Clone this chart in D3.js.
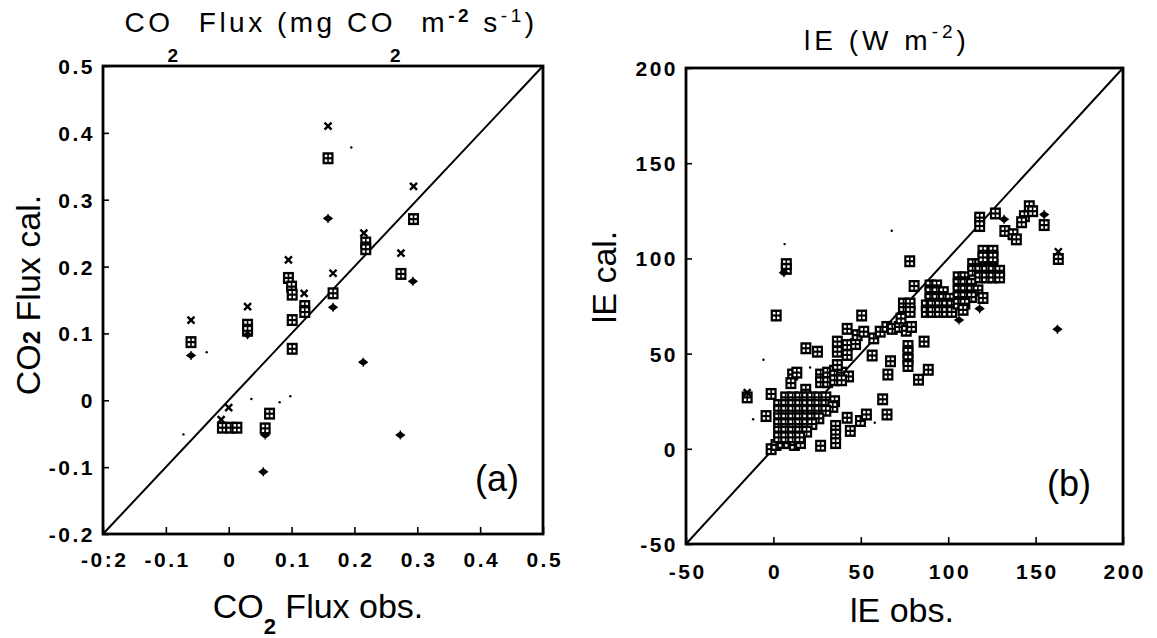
<!DOCTYPE html>
<html>
<head>
<meta charset="utf-8">
<script src="https://cdn.jsdelivr.net/npm/d3@7"></script>
<style>
body { margin: 0; background: #fff; }
text { font-family: "Liberation Sans", Arial, sans-serif; fill: #000; }
</style>
</head>
<body>
<div id="chart"></div>
<script>
// ---- panel (a): CO2 flux, [observed, calculated] ----
const co2Cross = [[-0.06, 0.12], [0.03, 0.14], [0.095, 0.21], [0.12, 0.16], [0.158, 0.41],
    [0.166, 0.19], [0.215, 0.25], [0.274, 0.22], [0.294, 0.32], [0.0, -0.011], [-0.012, -0.029]];
const co2Box = [[-0.06, 0.087], [0.03, 0.113], [0.03, 0.104], [0.095, 0.183], [0.1, 0.17],
    [0.101, 0.158], [0.121, 0.141], [0.121, 0.132], [0.101, 0.12], [0.101, 0.077],
    [0.158, 0.362], [0.166, 0.16], [0.218, 0.236], [0.218, 0.226], [0.274, 0.189], [0.294, 0.271],
    [-0.01, -0.041], [0.003, -0.041], [0.013, -0.041], [0.065, -0.02], [0.058, -0.042]];
const co2Plus = [[-0.06, 0.067], [0.03, 0.098], [0.158, 0.272], [0.166, 0.139], [0.214, 0.057],
    [0.293, 0.178], [0.273, -0.052], [0.058, -0.052], [0.055, -0.107]];
const co2Dots = [[-0.072, -0.051], [0.036, 0.002], [0.081, -0.003], [0.098, 0.006], [-0.035, 0.072], [0.195, 0.378]];

const co2Ticks = [-0.2, -0.1, 0, 0.1, 0.2, 0.3, 0.4, 0.5];
const co2XLabels = ["-0:2", "-0.1", "0", "0.1", "0.2", "0.3", "0.4", "0.5"];
const co2YLabels = ["-0.2", "-0.1", "0", "0.1", "0.2", "0.3", "0.4", "0.5"];

// ---- panel (b): latent heat flux lE, [observed, calculated] ----
const leBox = [
    [-15, 27], [-1.3, 28.8], [-4.2, 17.2], [-1.3, -0.2], [1.6, 70], [7.4, 97], [7.4, 94.5],
    [50.5, 70], [78, 98.5], [80.5, 85.5],
    [1.5, 2], [5, 3], [8.5, 3], [12, 2], [15.5, 3],
    [18.5, 31],
    [7, 27], [11, 27], [15, 27], [19, 27], [22, 27], [26, 27], [30, 27], [35, 25],
    [3, 23], [7, 23], [11, 23], [15, 23], [19, 23], [22, 23], [26, 23], [30, 23], [34, 22],
    [3, 20], [7, 20], [11, 20], [15, 20], [19, 20], [22, 20], [26, 20], [30, 20],
    [3, 16], [7, 16], [11, 16], [15, 16], [19, 16], [22, 16], [26, 16],
    [3, 13], [7, 13], [11, 13], [15, 13], [19, 13], [22, 13],
    [3, 9], [7, 9], [11, 9], [15, 9], [19, 9],
    [3, 6], [7, 6], [11, 6], [15, 6],
    [27, 1.6], [35.6, 12], [35.6, 7.5], [35.6, 3],
    [42.2, 16.3], [44, 9.4], [49.8, 14.6], [53.2, 18], [62.5, 26], [65, 18],
    [11, 39], [13.4, 40], [10, 34.5], [18.6, 52.8], [25.2, 51],
    [27, 39], [31, 40], [35, 41], [39, 40], [43, 38], [27, 35], [31, 35], [35, 36], [39, 36], [36.6, 44],
    [36.6, 56.3], [36.6, 51], [42.2, 49.3], [42.2, 54.5], [42.2, 63], [47, 55], [47.9, 59.7],
    [51.7, 61.5], [57.4, 58], [61.1, 61.5], [64.9, 64], [56.5, 49],
    [67, 46], [65.5, 39],
    [77, 54], [77, 50.5], [77, 47], [77, 43.5], [86.2, 56.3], [88.6, 41.5], [83, 36.3],
    [68, 63], [72, 64], [76, 62], [79, 64],
    [74.4, 76.3], [78.2, 76.3], [74.4, 71.9], [78.2, 71.9], [73, 68.4],
    [89.6, 85.8], [93.4, 85.8], [89.6, 82.3], [93.4, 82.3], [97.2, 82.3],
    [89.6, 78.8], [93.4, 78.8], [97.2, 78.8], [101, 78.8],
    [87.5, 75.3], [91, 75.3], [95, 75.3], [99, 75.3], [102, 75.3],
    [87.5, 71.9], [91, 71.9], [95, 71.9], [99, 71.9], [102, 71.9],
    [105.7, 90.1], [109.5, 90.1], [105.7, 86.6], [109.5, 86.6], [113.3, 86.6],
    [105.7, 83.2], [109.5, 83.2], [113.3, 83.2], [117, 83.2],
    [105.7, 79.7], [109.5, 79.7], [113.3, 79.7], [105.7, 76.2], [109.5, 76.2],
    [114, 97], [118, 97], [121.8, 97], [125.6, 97], [114, 93.5], [118, 93.5], [121.8, 93.5],
    [125.6, 93.5], [129.4, 93.5], [118, 90], [121.8, 90], [125.6, 90], [129.4, 90],
    [119.9, 104], [125.6, 104], [119.9, 100.5], [125.6, 100.5],
    [119.9, 79.2], [108.5, 73],
    [118, 121.4], [118, 117], [127, 123.6], [132.4, 114.4], [137.1, 112.7], [139, 110],
    [146.4, 127.4], [143.6, 122.2], [148.3, 124.8], [142, 119], [154.9, 117.5], [163, 99.7]
];
const lePlus = [[6, 92.5], [106.2, 67.6], [118, 73.6], [132, 120.5], [154.9, 123], [162.5, 62.8]];
const leCross = [[-15, 29.5], [163, 103.5]];
const leDots = [[6.4, 107.5], [67.7, 114.5], [-5.7, 46.8], [-11.6, 15.5], [21, 42.7], [58, 13.7]];

const leTicks = [-50, 0, 50, 100, 150, 200];
const leLabels = ["-50", "0", "50", "100", "150", "200"];

const width = 1157, height = 638;

const svg = d3.select("#chart").append("svg")
    .attr("width", width)
    .attr("height", height);

function drawPanel(cfg) {
    const x = d3.scaleLinear().domain(cfg.domain).range([cfg.left, cfg.right]);
    const y = d3.scaleLinear().domain(cfg.domain).range([cfg.bottom, cfg.top]);
    const g = svg.append("g");

    // axes with inward ticks
    const xAxis = d3.axisBottom(x)
        .tickValues(cfg.ticks)
        .tickFormat((d, i) => cfg.xLabels[i])
        .tickSizeInner(-7)
        .tickSizeOuter(0);
    const gx = g.append("g")
        .attr("transform", `translate(0,${cfg.bottom})`)
        .call(xAxis);

    const yAxis = d3.axisLeft(y)
        .tickValues(cfg.ticks)
        .tickFormat((d, i) => cfg.yLabels[i])
        .tickSizeInner(-6)
        .tickSizeOuter(0)
        .tickPadding(8);
    const gy = g.append("g")
        .attr("transform", `translate(${cfg.left},0)`)
        .call(yAxis);

    [gx, gy].forEach(a => {
        a.select(".domain").remove();
        a.selectAll("line").attr("stroke", "#000").attr("stroke-width", 1.6);
        a.selectAll("text")
            .attr("font-family", "'DejaVu Sans', sans-serif")
            .attr("font-size", 21)
            .attr("font-weight", "bold")
            .attr("letter-spacing", cfg.spacing);
    });
    gx.selectAll("text").attr("y", cfg.labelDrop).attr("dy", 0)
        .attr("dx", cfg.spacing / 2);
    gy.selectAll("text").attr("dy", "0.36em");

    // 1:1 line
    g.append("line")
        .attr("x1", x(cfg.domain[0])).attr("y1", y(cfg.domain[0]))
        .attr("x2", x(cfg.domain[1])).attr("y2", y(cfg.domain[1]))
        .attr("stroke", "#000").attr("stroke-width", 2);

    // frame
    g.append("rect")
        .attr("x", cfg.left).attr("y", cfg.top)
        .attr("width", cfg.right - cfg.left).attr("height", cfg.bottom - cfg.top)
        .attr("fill", "none").attr("stroke", "#000").attr("stroke-width", 2.8);

    // boxed-plus markers
    const box = g.selectAll(".box").data(cfg.box).enter().append("g")
        .attr("transform", d => `translate(${x(d[0])},${y(d[1])})`);
    box.append("rect")
        .attr("x", -5.5).attr("y", -6).attr("width", 11).attr("height", 12)
        .attr("fill", "#000");
    [[-3.3, -3.6], [0.8, -3.6], [-3.3, 1.1], [0.8, 1.1]].forEach(o => {
        box.append("rect")
            .attr("x", o[0]).attr("y", o[1]).attr("width", 2.5).attr("height", 2.5)
            .attr("fill", "#fff");
    });

    g.selectAll(".cross").data(cfg.cross).enter().append("path")
        .attr("transform", d => `translate(${x(d[0])},${y(d[1])})`)
        .attr("d", "M-3.5,-3.5L3.5,3.5M3.5,-3.5L-3.5,3.5")
        .attr("stroke", "#000").attr("stroke-width", 2.4);

    g.selectAll(".plus").data(cfg.plus).enter().append("path")
        .attr("transform", d => `translate(${x(d[0])},${y(d[1])})`)
        .attr("d", "M-4,0L0,-3L4,0L0,3Z M0,-4.5L0,4.5")
        .attr("fill", "#000").attr("stroke", "#000").attr("stroke-width", 1.4);

    g.selectAll(".dot").data(cfg.dots).enter().append("circle")
        .attr("cx", d => x(d[0])).attr("cy", d => y(d[1]))
        .attr("r", 1.2).attr("fill", "#000");
}

drawPanel({
    domain: [-0.2, 0.5], left: 103, right: 543, top: 66, bottom: 534,
    ticks: co2Ticks, xLabels: co2XLabels, yLabels: co2YLabels, spacing: 2.5, labelDrop: 33,
    box: co2Box, cross: co2Cross, plus: co2Plus, dots: co2Dots
});

drawPanel({
    domain: [-50, 200], left: 686, right: 1123, top: 68, bottom: 544,
    ticks: leTicks, xLabels: leLabels, yLabels: leLabels, spacing: 2.5, labelDrop: 35,
    box: leBox, cross: leCross, plus: lePlus, dots: leDots
});

// ---- titles and axis labels ----
const tsize = 28, asize = 34;

const t1 = svg.append("text").attr("x", 331).attr("y", 32)
    .attr("text-anchor", "middle").attr("font-size", tsize).attr("letter-spacing", 3.5);
t1.append("tspan").text("CO");
t1.append("tspan").attr("dy", 30).attr("dx", -6).attr("font-size", 19).attr("font-weight", "bold").text("2");
t1.append("tspan").attr("dy", -30).attr("dx", 6).text(" Flux (mg CO");
t1.append("tspan").attr("dy", 30).attr("dx", -6).attr("font-size", 19).attr("font-weight", "bold").text("2");
t1.append("tspan").attr("dy", -30).attr("dx", 6).text(" m");
t1.append("tspan").attr("dy", -10).attr("font-size", 19).attr("font-weight", "bold").text("-2");
t1.append("tspan").attr("dy", 10).text(" s");
t1.append("tspan").attr("dy", -10).attr("font-size", 19).text("-1");
t1.append("tspan").attr("dy", 10).text(")");

const t2 = svg.append("text").attr("x", 887).attr("y", 50)
    .attr("text-anchor", "middle").attr("font-size", tsize).attr("letter-spacing", 4);
t2.append("tspan").text("lE (W m");
t2.append("tspan").attr("dy", -12).attr("font-size", 19).text("-2");
t2.append("tspan").attr("dy", 12).text(")");

const t3 = svg.append("text").attr("x", 318).attr("y", 618)
    .attr("text-anchor", "middle").attr("font-size", asize);
t3.append("tspan").text("CO");
t3.append("tspan").attr("dy", 16).attr("font-size", 22).attr("font-weight", "bold").text("2");
t3.append("tspan").attr("dy", -16).text(" Flux obs.");

svg.append("text").attr("x", 902).attr("y", 622)
    .attr("text-anchor", "middle").attr("font-size", asize).text("lE obs.");

const t4 = svg.append("text")
    .attr("transform", "translate(40,295) rotate(-90)")
    .attr("text-anchor", "middle").attr("font-size", asize);
t4.append("tspan").text("CO");
t4.append("tspan").attr("font-size", 24).attr("font-weight", "bold").text("2");
t4.append("tspan").text(" Flux cal.");

svg.append("text")
    .attr("transform", "translate(616,277) rotate(-90)")
    .attr("text-anchor", "middle").attr("font-size", asize).text("lE cal.");

svg.append("text").attr("x", 497).attr("y", 491)
    .attr("text-anchor", "middle").attr("font-size", 36).attr("font-family", "'DejaVu Sans', sans-serif")
    .attr("font-weight", 300).text("(a)");
svg.append("text").attr("x", 1069).attr("y", 496)
    .attr("text-anchor", "middle").attr("font-size", 36).attr("font-family", "'DejaVu Sans', sans-serif")
    .attr("font-weight", 300).text("(b)");
</script>
</body>
</html>
